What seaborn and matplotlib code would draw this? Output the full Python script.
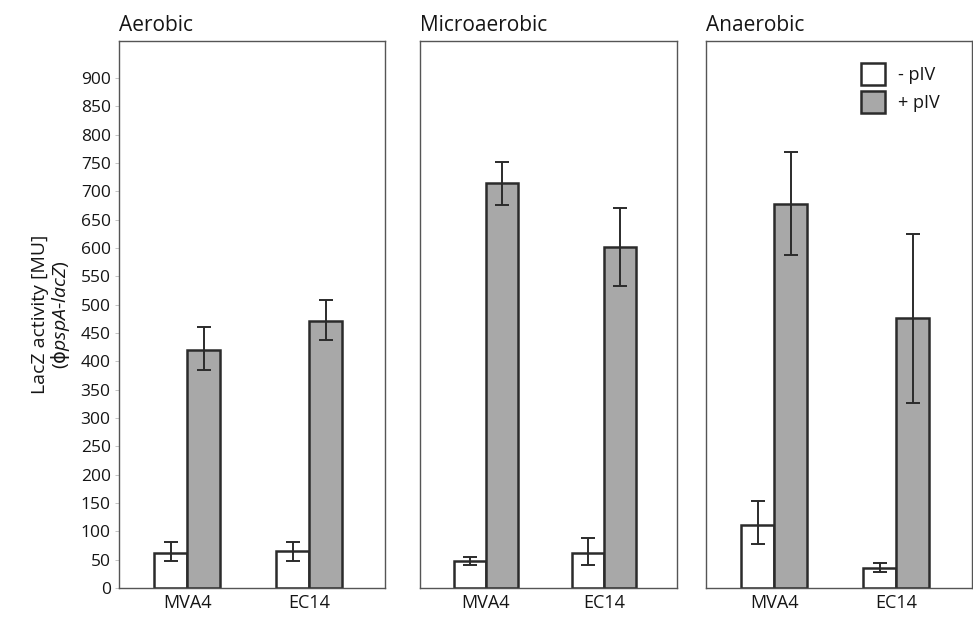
import numpy as np
import pandas as pd
import matplotlib
matplotlib.use('Agg')
import matplotlib.pyplot as plt
import seaborn as sns

sns.set_style('white')
plt.rcParams['font.family'] = ['Open Sans', 'DejaVu Sans']
plt.rcParams['mathtext.fontset'] = 'custom'
plt.rcParams['mathtext.it'] = 'Open Sans:italic'
plt.rcParams['mathtext.rm'] = 'DejaVu Sans'

conditions = ['Aerobic', 'Microaerobic', 'Anaerobic']
strains = ['MVA4', 'EC14']
groups = ['- pIV', '+ pIV']

# values per condition, order MVA4, EC14
minus_mean = [[62, 66], [47, 61], [111, 35]]
minus_lo = [[47, 47], [40, 40], [77, 28]]
minus_hi = [[81, 81], [55, 89], [153, 44]]
plus_mean = [[420, 471], [715, 601], [677, 476]]
plus_lo = [[384, 438], [675, 532], [588, 327]]
plus_hi = [[461, 508], [751, 671], [770, 625]]

colors = {'- pIV': 'white', '+ pIV': '#a8a8a8'}
edge = '#2b2b2b'
txt = '#151515'

rows = []
for ci, cond in enumerate(conditions):
    for si, s in enumerate(strains):
        rows.append(dict(cond=cond, strain=s, grp='- pIV', value=minus_mean[ci][si],
                         lo=minus_lo[ci][si], hi=minus_hi[ci][si]))
        rows.append(dict(cond=cond, strain=s, grp='+ pIV', value=plus_mean[ci][si],
                         lo=plus_lo[ci][si], hi=plus_hi[ci][si]))
df = pd.DataFrame(rows)

fig = plt.figure(figsize=(9.73, 6.17), dpi=100)
lefts = [0.1223, 0.4317, 0.7256]
widths = [0.2734, 0.2641, 0.2734]
bottom, height = 0.047, 0.8865

for i, cond in enumerate(conditions):
    ax = fig.add_axes([lefts[i], bottom, widths[i], height])
    sub = df[df['cond'] == cond]
    sns.barplot(data=sub, x='strain', y='value', hue='grp', order=strains, hue_order=groups,
                palette=colors, edgecolor=edge, linewidth=1.8, width=0.54,
                errorbar=None, ax=ax, legend=(i == 2))
    # error bars
    for gi, (grp, cont) in enumerate(zip(groups, ax.containers)):
        for si, bar in enumerate(cont):
            r = sub[(sub['grp'] == grp) & (sub['strain'] == strains[si])].iloc[0]
            xc = bar.get_x() + bar.get_width() / 2
            ax.errorbar(xc, r['value'], yerr=[[r['value'] - r['lo']], [r['hi'] - r['value']]],
                        fmt='none', ecolor=edge, elinewidth=1.4, capsize=5, capthick=1.4, zorder=5)
    ax.set_xlim(-0.56, 1.62)
    ax.set_ylim(0, 965)
    ax.set_xlabel('')
    ax.set_ylabel('')
    for sp in ax.spines.values():
        sp.set_visible(True)
        sp.set_color('#555555')
        sp.set_linewidth(1.0)
    ax.tick_params(axis='x', length=0, labelsize=13, pad=4, colors=txt)
    if i == 0:
        ax.set_yticks(np.arange(0, 901, 50))
        ax.tick_params(axis='y', left=True, length=3, width=0.6, color='#bbbbbb',
                       labelsize=12.5, pad=3, colors=txt)
        ax.set_ylabel('LacZ activity [MU]\n' + r'($\mathrm{\phi}$$\it{pspA}$-$\it{lacZ}$)',
                      fontsize=14, labelpad=6, color=txt, linespacing=1.0)
    else:
        ax.set_yticks([])
    ax.set_title(cond, loc='left', fontsize=15, pad=7, color=txt)
    if i == 2:
        sns.move_legend(ax, 'upper right', bbox_to_anchor=(0.94, 0.99), frameon=False,
                        title=None, fontsize=13, handlelength=1.35, handleheight=1.5,
                        handletextpad=0.7, labelspacing=0.35)
        for t in ax.get_legend().get_texts():
            t.set_color(txt)

fig.savefig('out.png', dpi=100)
